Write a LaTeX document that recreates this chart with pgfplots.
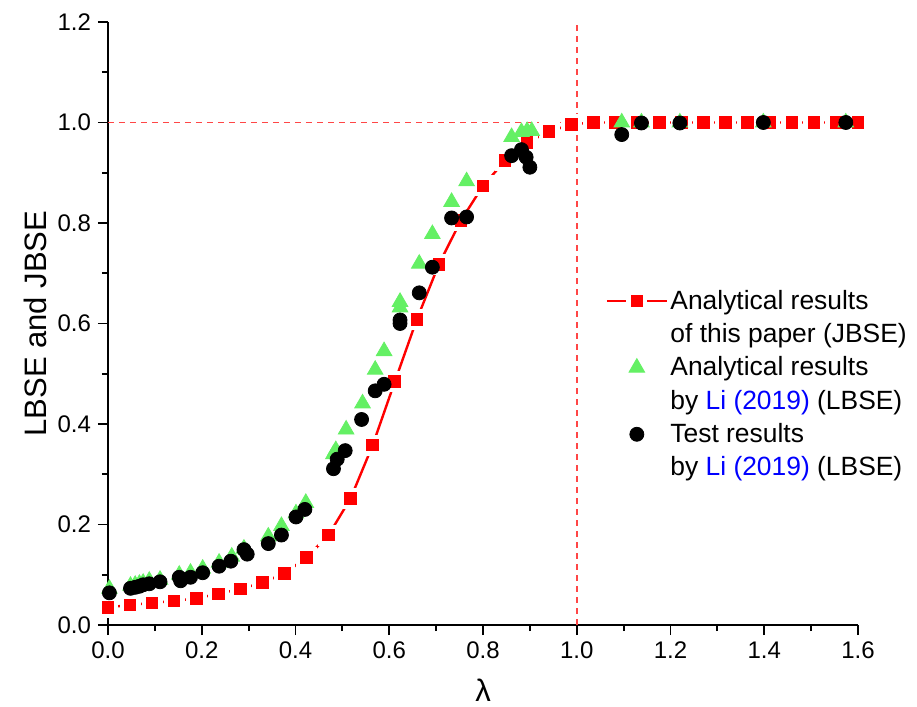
\documentclass[border=0pt]{standalone}
\usepackage{pgfplots}
\pgfplotsset{compat=1.18}
\usepackage{fontspec}
\setmainfont{Liberation Sans}
\definecolor{lgreen}{RGB}{100,240,100}
\definecolor{refred}{RGB}{255,70,70}
\definecolor{liblue}{RGB}{0,0,255}
\begin{document}
\begin{tikzpicture}
\begin{axis}[
  scale only axis, width=375pt, height=301.5pt,
  xmin=0, xmax=1.6, ymin=0, ymax=1.2,
  clip=false,
  axis x line*=bottom, axis y line*=left,
  axis line style={line width=1pt, -},
  xtick={0,0.2,0.4,0.6,0.8,1.0,1.2,1.4,1.6},
  ytick={0,0.2,0.4,0.6,0.8,1.0,1.2},
  minor x tick num=1, minor y tick num=1,
  tick align=outside, major tick length=5pt, minor tick length=3pt,
  every tick/.style={line width=0.9pt, black},
  tick label style={font=\fontsize{12}{14}\selectfont},
  /pgf/number format/.cd, fixed, fixed zerofill, precision=1, assume math mode=true,
  /pgfplots/.cd,
  xlabel={λ}, ylabel={LBSE and JBSE},
  label style={font=\fontsize{15.5}{18}\selectfont},
  xlabel style={at={(axis description cs:0.5,-0.108)}, anchor=center},
  ylabel style={at={(axis description cs:-0.097,0.5)}, anchor=center},
  legend image code/.code={\draw[mark repeat=2,mark phase=2] plot coordinates {(0pt,0pt) (15pt,0pt) (30pt,0pt)};},
  legend cell align=left,
  legend style={at={(0.655,0.567)}, anchor=north west, draw=none, fill=none,
    font=\fontsize{13.2}{15}\selectfont, row sep=3.2pt,
    nodes={inner sep=1.2pt}},
]
\coordinate (SW) at (rel axis cs:0,0);
\coordinate (NE) at (rel axis cs:1,1);
\addplot[refred, line width=0.75pt, dash pattern=on 3pt off 2.5pt, forget plot] coordinates {(0,1) (1.6,1)};
\addplot[refred, line width=0.75pt, dash pattern=on 3pt off 2.5pt, forget plot] coordinates {(1,0) (1,1.2)};

\addplot[red, line width=1.2pt, mark=square*, mark size=4.2pt,
  mark options={draw=white, line width=2.1pt, fill=red, solid}] coordinates {
(0.0000,0.035) (0.0471,0.040) (0.0941,0.044) (0.1412,0.048) (0.1882,0.053)
(0.2353,0.062) (0.2824,0.072) (0.3294,0.084) (0.3765,0.103) (0.4235,0.134)
(0.4706,0.179) (0.5176,0.252) (0.5647,0.358) (0.6118,0.484) (0.6588,0.608)
(0.7059,0.718) (0.7529,0.805) (0.8000,0.874) (0.8471,0.924) (0.8941,0.960)
(0.9412,0.982) (0.9882,0.996) (1.0353,1.000) (1.0824,1.000) (1.1294,1.000)
(1.1765,1.000) (1.2235,1.000) (1.2706,1.000) (1.3176,1.000) (1.3647,1.000)
(1.4118,1.000) (1.4588,1.000) (1.5059,1.000) (1.5529,1.000) (1.6000,1.000)
};
\addlegendentry{Analytical results}
\addlegendimage{empty legend}
\addlegendentry{of this paper (JBSE)}

\addplot[only marks, mark=triangle*, mark size=4.5pt, mark options={draw=lgreen, fill=lgreen}] coordinates {
(0.003,0.072) (0.048,0.078) (0.058,0.080) (0.067,0.082) (0.075,0.084)
(0.088,0.088) (0.111,0.090) (0.152,0.100) (0.176,0.104) (0.202,0.112)
(0.237,0.124) (0.264,0.136) (0.290,0.152) (0.342,0.176) (0.370,0.197)
(0.401,0.222) (0.422,0.243) (0.481,0.340) (0.486,0.348) (0.508,0.389)
(0.543,0.441) (0.570,0.508) (0.589,0.545) (0.623,0.632) (0.623,0.643)
(0.664,0.719) (0.692,0.778) (0.733,0.842) (0.765,0.883) (0.861,0.971)
(0.882,0.981) (0.894,0.983) (0.904,0.983) (1.096,1.000) (1.138,1.000)
(1.220,1.000) (1.398,1.000) (1.574,1.000)
};
\addlegendentry{Analytical results}
\addlegendimage{empty legend}
\addlegendentry{by \textcolor{liblue}{Li (2019)} (LBSE)}

\addplot[only marks, mark=*, mark size=3.5pt, mark options={draw=black, fill=black}] coordinates {
(0.003,0.064) (0.048,0.073) (0.058,0.075) (0.067,0.077) (0.075,0.080)
(0.088,0.082) (0.111,0.086) (0.152,0.095) (0.155,0.088) (0.176,0.095)
(0.202,0.104) (0.237,0.117) (0.262,0.127) (0.290,0.150) (0.297,0.141)
(0.342,0.162) (0.370,0.179) (0.401,0.215) (0.420,0.230) (0.481,0.311)
(0.489,0.330) (0.506,0.347) (0.541,0.409) (0.570,0.466) (0.589,0.479)
(0.623,0.600) (0.623,0.607) (0.664,0.661) (0.692,0.712) (0.733,0.810)
(0.765,0.812) (0.861,0.934) (0.882,0.946) (0.892,0.931) (0.900,0.911)
(1.096,0.976) (1.138,0.999) (1.220,0.999) (1.398,1.000) (1.574,1.000)
};
\addlegendentry{Test results}
\addlegendimage{empty legend}
\addlegendentry{by \textcolor{liblue}{Li (2019)} (LBSE)}
\end{axis}
\pgfresetboundingbox
\path ([shift={(-54pt,-41pt)}]SW) rectangle ([shift={(29.5pt,11pt)}]NE);
\end{tikzpicture}
\end{document}
